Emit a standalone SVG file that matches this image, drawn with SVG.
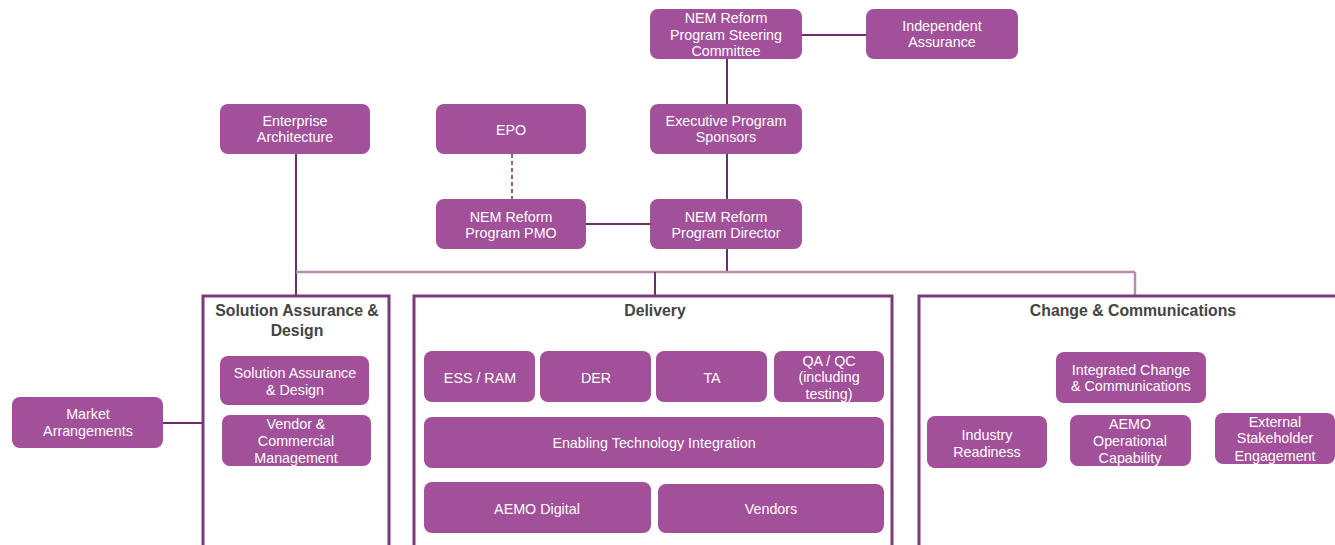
<svg xmlns="http://www.w3.org/2000/svg" width="1335" height="545" viewBox="0 0 1335 545">
<style>
.n{fill:#A2509A;}
.t{fill:#ffffff;font-family:"Liberation Sans",Arial,sans-serif;font-size:14.3px;text-anchor:middle;}
.c{fill:#ffffff;stroke:#7A3A7C;stroke-width:3;}
.h{fill:#444444;font-family:"Liberation Sans",Arial,sans-serif;font-size:15.8px;font-weight:bold;text-anchor:middle;}
.l{stroke:#6E2D6E;stroke-width:2;fill:none;}
.b{stroke:#B48CB4;stroke-width:2.5;fill:none;}
.d{stroke:#6E2D6E;stroke-width:1.5;fill:none;stroke-dasharray:4,3;}
</style>
<rect width="1335" height="545" fill="#ffffff"/>
<g id="connectors">
<line class="l" x1="802" y1="35" x2="866" y2="35"/>
<line class="l" x1="727" y1="59" x2="727" y2="104"/>
<line class="l" x1="727" y1="154" x2="727" y2="199"/>
<line class="d" x1="512" y1="154" x2="512" y2="199"/>
<line class="l" x1="586" y1="224" x2="650" y2="224"/>
<line class="l" x1="296" y1="154" x2="296" y2="296"/>
<line class="l" x1="727" y1="249" x2="727" y2="272"/>
<line class="b" x1="296" y1="272" x2="1135" y2="272"/>
<line class="l" x1="655" y1="272" x2="655" y2="296"/>
<line class="b" x1="1135" y1="272" x2="1135" y2="296"/>
<line class="l" x1="163" y1="423" x2="203" y2="423"/>
</g>
<g id="steering"><rect class="n" x="650" y="9" width="152" height="50" rx="8"/><text class="t" x="726" y="23">NEM Reform</text><text class="t" x="726" y="40">Program Steering</text><text class="t" x="726" y="56">Committee</text></g>
<g id="independent"><rect class="n" x="866" y="9" width="152" height="50" rx="8"/><text class="t" x="942" y="31">Independent</text><text class="t" x="942" y="47">Assurance</text></g>
<g id="sponsors"><rect class="n" x="650" y="104" width="152" height="50" rx="8"/><text class="t" x="726" y="126">Executive Program</text><text class="t" x="726" y="142">Sponsors</text></g>
<g id="epo"><rect class="n" x="436" y="104" width="150" height="50" rx="8"/><text class="t" x="511" y="135">EPO</text></g>
<g id="ea"><rect class="n" x="220" y="104" width="150" height="50" rx="8"/><text class="t" x="295" y="126">Enterprise</text><text class="t" x="295" y="142">Architecture</text></g>
<g id="pmo"><rect class="n" x="436" y="199" width="150" height="50" rx="8"/><text class="t" x="511" y="222">NEM Reform</text><text class="t" x="511" y="238">Program PMO</text></g>
<g id="director"><rect class="n" x="650" y="199" width="152" height="50" rx="8"/><text class="t" x="726" y="222">NEM Reform</text><text class="t" x="726" y="238">Program Director</text></g>
<g id="market"><rect class="n" x="12" y="397" width="151" height="51" rx="8"/><text class="t" x="88" y="419">Market</text><text class="t" x="88" y="436">Arrangements</text></g>
<g id="sad-container"><rect class="c" x="203" y="296" width="186" height="260"/><text class="h" x="297" y="316">Solution Assurance &amp;</text><text class="h" x="297" y="336">Design</text></g>
<g id="sad"><rect class="n" x="220" y="356" width="149" height="49" rx="8"/><text class="t" x="295" y="378">Solution Assurance</text><text class="t" x="295" y="395">&amp; Design</text></g>
<g id="vendor-commercial"><rect class="n" x="222" y="415" width="149" height="51" rx="8"/><text class="t" x="296" y="429">Vendor &amp;</text><text class="t" x="296" y="446">Commercial</text><text class="t" x="296" y="463">Management</text></g>
<g id="delivery-container"><rect class="c" x="414" y="296" width="478" height="260"/><text class="h" x="655" y="316">Delivery</text></g>
<g id="ess"><rect class="n" x="424" y="351" width="111" height="51" rx="8"/><text class="t" x="480" y="383">ESS / RAM</text></g>
<g id="der"><rect class="n" x="540" y="351" width="111" height="51" rx="8"/><text class="t" x="596" y="383">DER</text></g>
<g id="ta"><rect class="n" x="656" y="351" width="111" height="51" rx="8"/><text class="t" x="712" y="383">TA</text></g>
<g id="qaqc"><rect class="n" x="774" y="351" width="110" height="51" rx="8"/><text class="t" x="829" y="366">QA / QC</text><text class="t" x="829" y="382">(including</text><text class="t" x="829" y="399">testing)</text></g>
<g id="eti"><rect class="n" x="424" y="417" width="460" height="51" rx="8"/><text class="t" x="654" y="448">Enabling Technology Integration</text></g>
<g id="aemo-digital"><rect class="n" x="424" y="482" width="227" height="51" rx="8"/><text class="t" x="537" y="514">AEMO Digital</text></g>
<g id="vendors"><rect class="n" x="658" y="484" width="226" height="49" rx="8"/><text class="t" x="771" y="514">Vendors</text></g>
<g id="change-container"><rect class="c" x="919" y="296" width="430" height="260"/><text class="h" x="1133" y="316">Change &amp; Communications</text></g>
<g id="icc"><rect class="n" x="1056" y="352" width="150" height="51" rx="8"/><text class="t" x="1131" y="375">Integrated Change</text><text class="t" x="1131" y="391">&amp; Communications</text></g>
<g id="industry"><rect class="n" x="927" y="416" width="120" height="52" rx="8"/><text class="t" x="987" y="440">Industry</text><text class="t" x="987" y="457">Readiness</text></g>
<g id="aemo-op"><rect class="n" x="1070" y="415" width="121" height="51" rx="8"/><text class="t" x="1130" y="429">AEMO</text><text class="t" x="1130" y="446">Operational</text><text class="t" x="1130" y="463">Capability</text></g>
<g id="external"><rect class="n" x="1215" y="413" width="120" height="51" rx="8"/><text class="t" x="1275" y="427">External</text><text class="t" x="1275" y="443">Stakeholder</text><text class="t" x="1275" y="461">Engagement</text></g>
</svg>
